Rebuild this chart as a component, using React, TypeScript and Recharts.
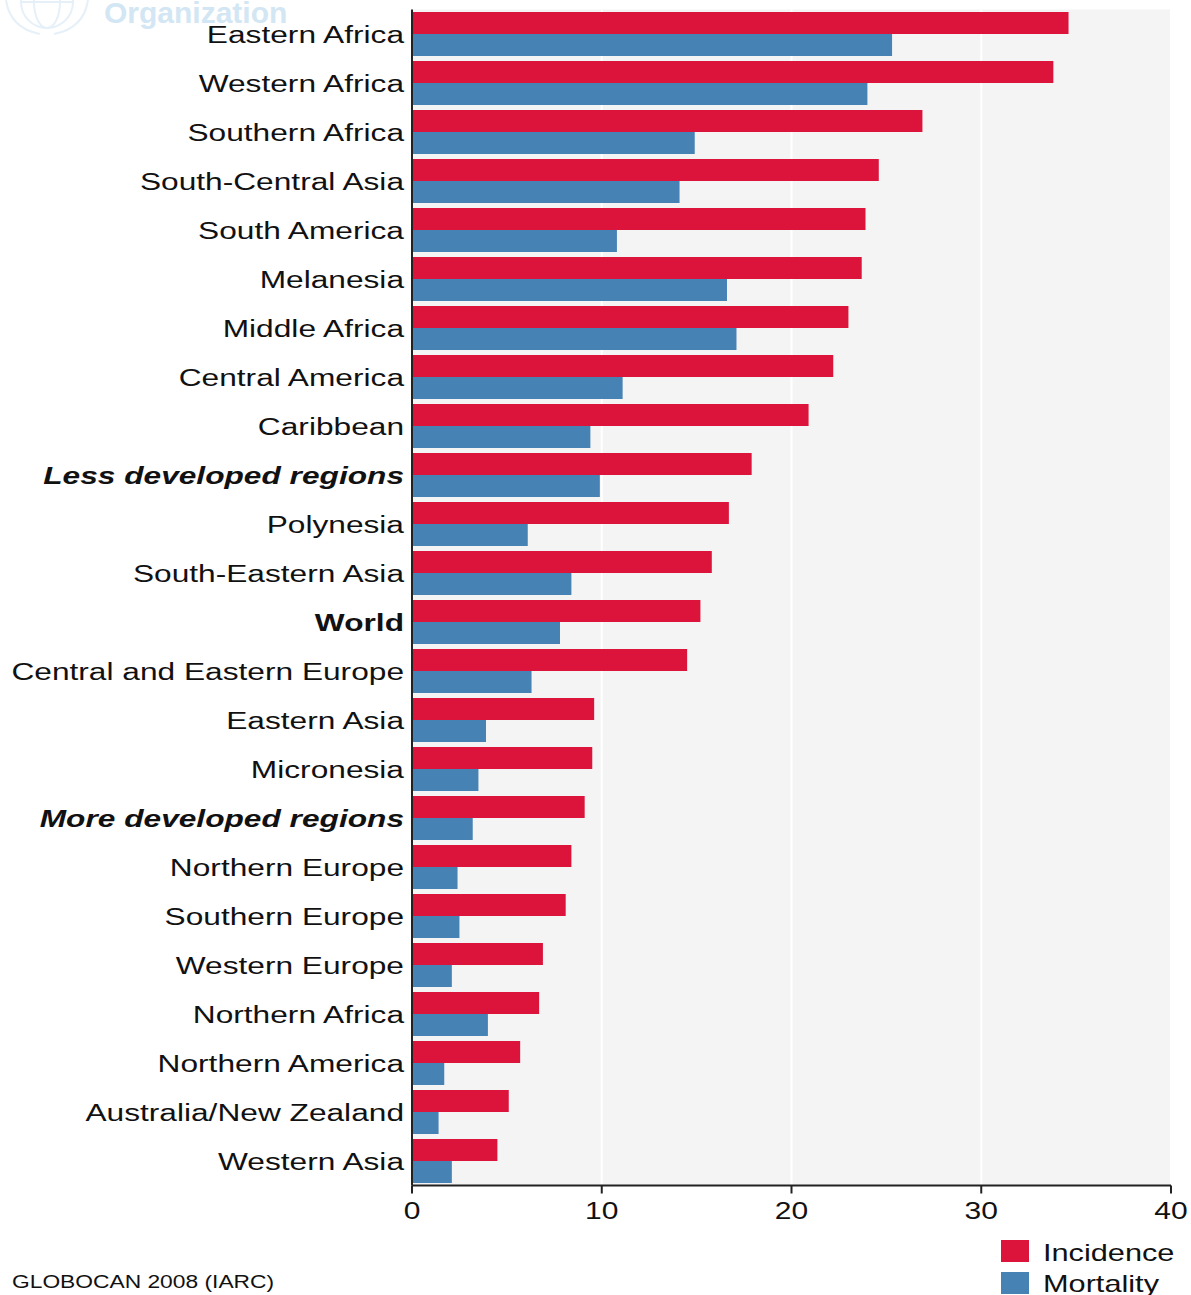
import React from "react";
import { BarChart, Bar, XAxis, YAxis, CartesianGrid } from "recharts";

const categories = [
  "Eastern Africa", "Western Africa", "Southern Africa", "South-Central Asia", "South America",
  "Melanesia", "Middle Africa", "Central America", "Caribbean", "Less developed regions",
  "Polynesia", "South-Eastern Asia", "World", "Central and Eastern Europe", "Eastern Asia",
  "Micronesia", "More developed regions", "Northern Europe", "Southern Europe", "Western Europe",
  "Northern Africa", "Northern America", "Australia/New Zealand", "Western Asia",
];
const incidence = [34.6, 33.8, 26.9, 24.6, 23.9, 23.7, 23.0, 22.2, 20.9, 17.9, 16.7, 15.8, 15.2, 14.5, 9.6, 9.5, 9.1, 8.4, 8.1, 6.9, 6.7, 5.7, 5.1, 4.5];
const mortality = [25.3, 24.0, 14.9, 14.1, 10.8, 16.6, 17.1, 11.1, 9.4, 9.9, 6.1, 8.4, 7.8, 6.3, 3.9, 3.5, 3.2, 2.4, 2.5, 2.1, 4.0, 1.7, 1.4, 2.1];
const xTicks = [0, 10, 20, 30, 40];
const boldItalic = ["Less developed regions", "More developed regions"];
const boldOnly = ["World"];

const data = categories.map((c, i) => ({ name: c, Incidence: incidence[i], Mortality: mortality[i] }));

const FONT = "'Liberation Sans', Arial, Helvetica, sans-serif";
const SX = 1.32;

const YTick = (props: any) => {
  const { x, y, payload } = props;
  const v = payload.value as string;
  const bi = boldItalic.includes(v);
  const b = boldOnly.includes(v);
  return (
    <g transform={`translate(${x},${y}) scale(${SX},1)`}>
      <text
        x={0}
        y={0}
        dy={8.6}
        textAnchor="end"
        fontFamily={FONT}
        fontSize={24}
        fontWeight={bi || b ? "bold" : "normal"}
        fontStyle={bi ? "italic" : "normal"}
        fill="#111"
      >
        {v}
      </text>
    </g>
  );
};

const XTick = (props: any) => {
  const { x, y, payload } = props;
  return (
    <g transform={`translate(${x},${y}) scale(1.25,1)`}>
      <text x={0} y={0} dy={23.5} textAnchor="middle" fontFamily={FONT} fontSize={24} fill="#111">
        {payload.value}
      </text>
    </g>
  );
};

export default function App() {
  return (
    <div style={{ position: "absolute", left: 0, top: 0, width: 1191, height: 1295, background: "#fff", overflow: "hidden" }}>
      <svg width={1191} height={1295} style={{ position: "absolute", left: 0, top: 0 }}>
        <g fill="none" stroke="#e6f0f9" strokeWidth={2}>
          <circle cx={47} cy={2} r={26} />
          <ellipse cx={47} cy={2} rx={13} ry={26} />
          <line x1={21} y1={2} x2={73} y2={2} />
          <path d="M6 0 Q10 28 40 34 M88 0 Q84 28 54 34" />
        </g>
        <text x={104} y={23} fontFamily={FONT} fontSize={30} fontWeight="bold" fill="#d3e6f4">
          Organization
        </text>
      </svg>
      <div style={{ position: "absolute", left: 0, top: 0 }}>
        <BarChart
          width={1191}
          height={1295}
          data={data}
          layout="vertical"
          margin={{ top: 9.5, right: 20, bottom: 79.5, left: 0 }}
          barCategoryGap={2.5}
          barGap={0}
        >
          <CartesianGrid horizontal={false} vertical={true} fill="#f4f4f4" stroke="#ffffff" strokeWidth={2} fillOpacity={1} />
          <XAxis
            type="number"
            domain={[0, 40]}
            ticks={xTicks}
            interval={0}
            height={30}
            tickSize={8}
            tickMargin={2}
            stroke="#222"
            axisLine={{ stroke: "#222", strokeWidth: 2 }}
            tickLine={{ stroke: "#222", strokeWidth: 2 }}
            tick={<XTick />}
          />
          <YAxis
            type="category"
            dataKey="name"
            width={412}
            interval={0}
            tickSize={0}
            tickMargin={8}
            tickLine={false}
            axisLine={{ stroke: "#222", strokeWidth: 2 }}
            tick={<YTick />}
          />
          <Bar dataKey="Incidence" fill="#DC143C" isAnimationActive={false} />
          <Bar dataKey="Mortality" fill="#4682B4" isAnimationActive={false} />
        </BarChart>
      </div>
      <svg width={1191} height={1295} style={{ position: "absolute", left: 0, top: 0, pointerEvents: "none" }}>
        <g transform="translate(12,1288) scale(1.2,1)">
          <text x={0} y={0} fontFamily={FONT} fontSize={19} fill="#111">GLOBOCAN 2008 (IARC)</text>
        </g>
        <rect x={1001} y={1240} width={28} height={22} fill="#DC143C" />
        <rect x={1001} y={1272} width={28} height={22} fill="#4682B4" />
        <g transform="translate(1043,1261) scale(1.28,1)">
          <text x={0} y={0} fontFamily={FONT} fontSize={24} fill="#111">Incidence</text>
        </g>
        <g transform="translate(1043,1292) scale(1.28,1)">
          <text x={0} y={0} fontFamily={FONT} fontSize={24} fill="#111">Mortality</text>
        </g>
      </svg>
    </div>
  );
}
